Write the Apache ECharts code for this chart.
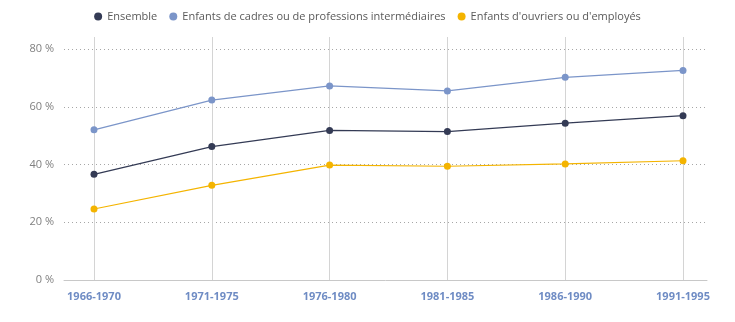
<!DOCTYPE html>
<html><head><meta charset="utf-8">
<script src="https://cdn.jsdelivr.net/npm/echarts@6/dist/echarts.min.js"></script>
<style>html,body{margin:0;padding:0;background:#fff}#c{width:735px;height:322px}</style>
</head><body><div id="c"></div>
<script>
var categories = ['1966-1970','1971-1975','1976-1980','1981-1985','1986-1990','1991-1995'];
var ensemble = [36.6, 46.2, 51.8, 51.4, 54.3, 56.9];
var cadres = [52.0, 62.3, 67.2, 65.5, 70.2, 72.6];
var ouvriers = [24.6, 32.8, 39.8, 39.4, 40.2, 41.3];
var yTicks = [0, 20, 40, 60, 80];
var names = ['Ensemble','Enfants de cadres ou de professions intermédiaires',"Enfants d'ouvriers ou d'employés"];
var colors = ['#343b55','#7b95c9','#f4b400'];

var chart = echarts.init(document.getElementById('c'), null, {renderer:'canvas'});
function mk(name, data, color){
  return {name:name, type:'line', xAxisIndex:1, yAxisIndex:1, data:data,
    symbol:'circle', symbolSize:7, color:color,
    lineStyle:{width:1.2, color:color}, itemStyle:{color:color}, animation:false};
}
chart.setOption({
  animation:false,
  textStyle:{fontFamily:'"Open Sans", sans-serif'},
  legend:{top:6, left:'center', itemWidth:8, itemHeight:8, itemGap:12, icon:'circle',
    textStyle:{color:'#595959', fontSize:11, fontFamily:'"Open Sans", sans-serif'},
    data:names},
  grid:[
    {left:64, right:28, top:49, bottom:42},
    {left:94, right:52, top:37, bottom:42}
  ],
  xAxis:[
    {type:'category', gridIndex:0, data:categories, boundaryGap:false,
     axisLine:{show:true, lineStyle:{color:'#c8c8c8', width:1}}, axisTick:{show:false},
     axisLabel:{show:false}, splitLine:{show:false}},
    {type:'category', gridIndex:1, data:categories, boundaryGap:false,
     axisLine:{show:false}, axisTick:{show:false},
     axisLabel:{color:'#6f8cc4', fontWeight:'bold', fontSize:11, margin:11, interval:0},
     splitLine:{show:true, lineStyle:{color:'#d4d4d4', width:1}}}
  ],
  yAxis:[
    {type:'value', gridIndex:0, min:yTicks[0], max:yTicks[yTicks.length-1], interval:20,
     axisLine:{show:false}, axisTick:{show:false},
     axisLabel:{color:'#808080', fontSize:11, margin:10, formatter:'{value} %'},
     splitLine:{show:true, lineStyle:{color:'#a6a6a6', type:[1,3], width:1}}},
    {type:'value', gridIndex:1, min:0, max:84.16, show:false, splitLine:{show:false}}
  ],
  series:[mk(names[0], ensemble, colors[0]), mk(names[1], cadres, colors[1]), mk(names[2], ouvriers, colors[2])]
});
</script></body></html>
